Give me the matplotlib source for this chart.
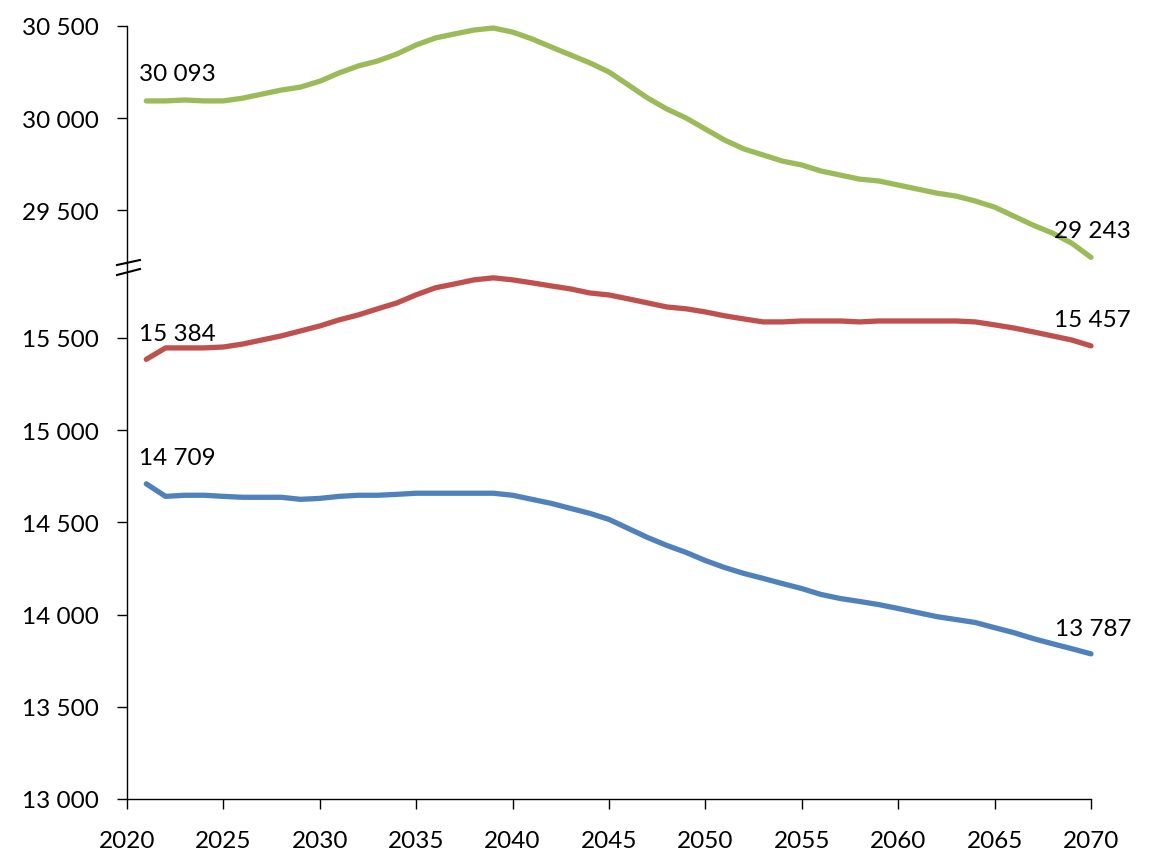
import matplotlib
matplotlib.use("Agg")
import matplotlib.pyplot as plt
from matplotlib.lines import Line2D

years = list(range(2021, 2071))

total = [30093, 30093, 30098, 30093, 30093, 30108, 30130, 30152, 30168, 30200,
         30245, 30283, 30310, 30348, 30397, 30435, 30457, 30478, 30489, 30467,
         30430, 30386, 30343, 30300, 30250, 30180, 30109, 30049, 30000, 29940,
         29880, 29832, 29799, 29766, 29745, 29712, 29690, 29668, 29658, 29636,
         29614, 29592, 29576, 29549, 29516, 29467, 29418, 29375, 29320, 29243]

women = [15384, 15446, 15446, 15446, 15451, 15467, 15489, 15511, 15538, 15565,
         15598, 15625, 15658, 15690, 15734, 15772, 15793, 15815, 15826, 15815,
         15799, 15782, 15766, 15744, 15733, 15712, 15690, 15668, 15658, 15641,
         15620, 15603, 15587, 15587, 15592, 15592, 15592, 15587, 15592, 15592,
         15592, 15592, 15592, 15587, 15571, 15554, 15533, 15511, 15489, 15457]

men = [14709, 14641, 14647, 14647, 14641, 14636, 14636, 14636, 14625, 14630,
       14641, 14647, 14647, 14652, 14658, 14658, 14658, 14658, 14658, 14647,
       14625, 14603, 14576, 14549, 14516, 14467, 14418, 14375, 14337, 14293,
       14255, 14223, 14196, 14168, 14141, 14109, 14087, 14071, 14054, 14033,
       14011, 13989, 13973, 13957, 13929, 13902, 13870, 13842, 13815, 13787]

upper_ticks = [29500, 30000, 30500]
lower_ticks = [13000, 13500, 14000, 14500, 15000, 15500]
x_ticks = list(range(2020, 2071, 5))

GREEN = "#9BBB59"
RED = "#C0504D"
BLUE = "#4F81BD"

plt.rcParams['font.family'] = ['Lato', 'DejaVu Sans']
FS = 17.5

W, H = 1151, 862
fig = plt.figure(figsize=(W / 100, H / 100), dpi=100)

left = 127 / W
right = 1091 / W
y_top = 27
y_break = 265
y_bot = 800

ax_up = fig.add_axes([left, 1 - y_break / H, right - left, (y_break - y_top) / H])
ax_lo = fig.add_axes([left, 1 - y_bot / H, right - left, (y_bot - y_break) / H])

lw = 3.8
ax_up.plot(years, total, color=GREEN, lw=lw, solid_capstyle='round', clip_on=False)
ax_lo.plot(years, women, color=RED, lw=lw, solid_capstyle='round', clip_on=False)
ax_lo.plot(years, men, color=BLUE, lw=lw, solid_capstyle='round', clip_on=False)

def fmt(v):
    return f"{v:,}".replace(",", " ")

ax_up.set_ylim(29207, 30500)
ax_lo.set_ylim(13000, 15901)
for ax in (ax_up, ax_lo):
    ax.set_xlim(2020, 2070)
    for s in ('top', 'right'):
        ax.spines[s].set_visible(False)
    ax.spines['left'].set_linewidth(1.0)
    ax.tick_params(axis='y', direction='out', length=7.2, width=1, pad=13, labelsize=FS)

ax_up.spines['bottom'].set_visible(False)
ax_up.set_xticks([])
ax_up.set_yticks(upper_ticks)
ax_up.set_yticklabels([fmt(v) for v in upper_ticks])

ax_lo.set_yticks(lower_ticks)
ax_lo.set_yticklabels([fmt(v) for v in lower_ticks])
ax_lo.set_xticks(x_ticks)
ax_lo.spines['bottom'].set_linewidth(1.0)
ax_lo.tick_params(axis='x', direction='out', length=7.2, width=1, pad=15, labelsize=FS)

kw = dict(textcoords='offset pixels', fontsize=FS, va='center', annotation_clip=False)
ax_up.annotate(fmt(total[0]), (years[0], total[0]), xytext=(-7, 27), ha='left', **kw)
ax_up.annotate(fmt(total[-1]), (years[-1], total[-1]), xytext=(40, 27), ha='right', **kw)
ax_lo.annotate(fmt(women[0]), (years[0], women[0]), xytext=(-7, 26), ha='left', **kw)
ax_lo.annotate(fmt(women[-1]), (years[-1], women[-1]), xytext=(40, 26), ha='right', **kw)
ax_lo.annotate(fmt(men[0]), (years[0], men[0]), xytext=(-7, 26), ha='left', **kw)
ax_lo.annotate(fmt(men[-1]), (years[-1], men[-1]), xytext=(40, 25), ha='right', **kw)

# break marks
for y0, y1 in ((266, 261), (276, 270)):
    fig.add_artist(Line2D([117 / W, 140 / W], [1 - y0 / H, 1 - y1 / H],
                          color='black', lw=1.5, transform=fig.transFigure))

fig.savefig("out.png", dpi=100)
